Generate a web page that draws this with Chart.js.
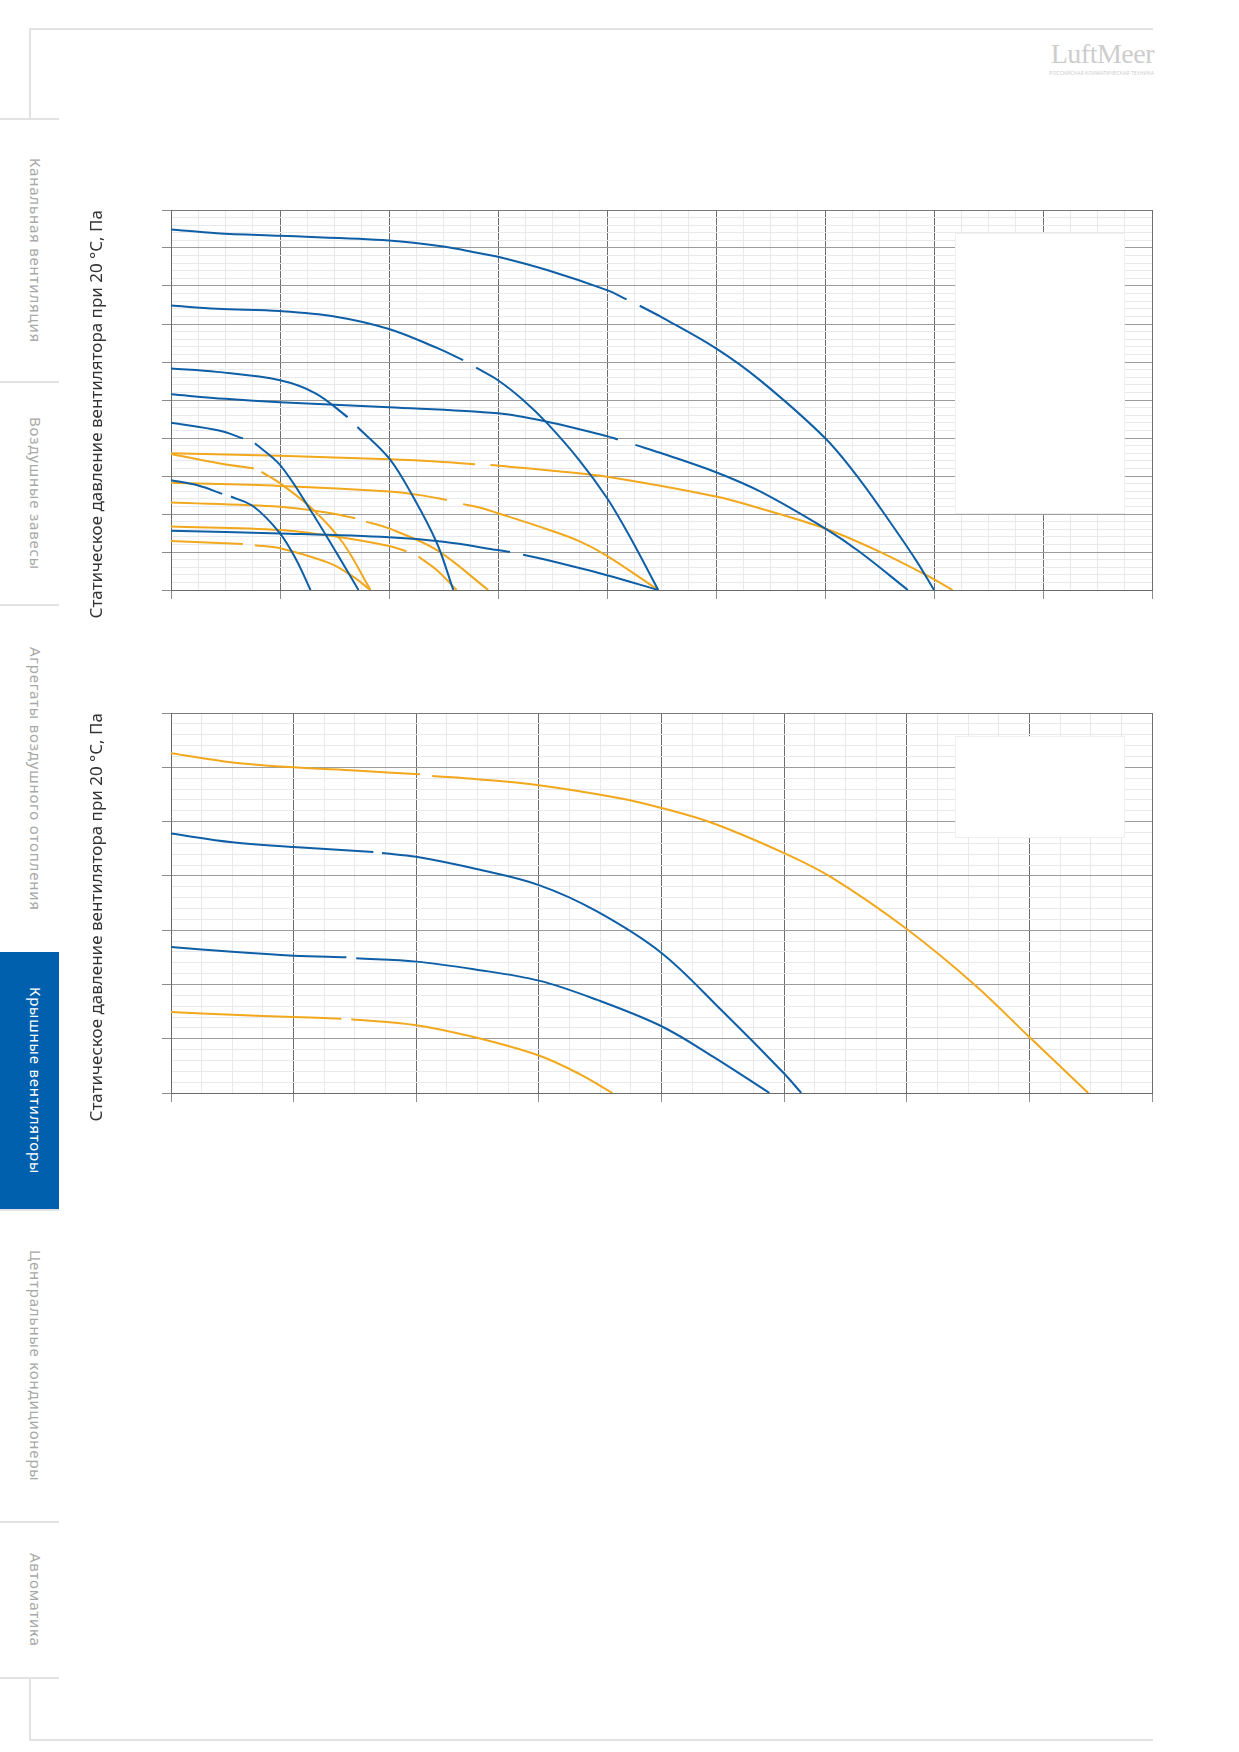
<!DOCTYPE html>
<html lang="ru">
<head>
<meta charset="utf-8">
<title>Крышные вентиляторы</title>
<script src="https://cdn.jsdelivr.net/npm/chart.js@4.4.1/dist/chart.umd.min.js"></script>
<style>
  html, body { margin: 0; padding: 0; background: #fff; }
  body { width: 1239px; height: 1752px; position: relative; overflow: hidden; font-family: "Noto Sans", sans-serif; }
  .rule { position: absolute; background: #e2e2e2; }
  .tab { position: absolute; left: 0; width: 59px; display: flex; align-items: center; justify-content: center; box-sizing: border-box; padding-left: 13px; }
  .tab span { writing-mode: vertical-rl; font-size: 15px; letter-spacing: 0.8px; color: #a8a8a8; white-space: nowrap; }
  .tab.active { background: #0060ad; }
  .tab.active span { color: #fff; }
  .chart-box { position: absolute; left: 60px; width: 1094px; height: 440px; }
  .logo { position: absolute; left: 1046px; top: 39px; width: 108px; text-align: right; color: #cdcdcd; }
  .logo b { display: block; font: 400 28px "Liberation Serif", serif; line-height: 30px; letter-spacing: -0.5px; }
  .logo small { display: block; font-size: 5px; letter-spacing: 0.1px; line-height: 8px; white-space: nowrap; }
</style>
</head>
<body>

<div class="rule" style="left:29px; top:28px; width:1124px; height:2px"></div>
<div class="rule" style="left:29px; top:28px; width:2px; height:91px"></div>
<div class="rule" style="left:29px; top:1677px; width:2px; height:64px"></div>
<div class="rule" style="left:29px; top:1739px; width:1124px; height:2px"></div>

<div class="rule" style="left:0; top:118px; width:59px; height:2px"></div>
<div class="rule" style="left:0; top:381px; width:59px; height:2px"></div>
<div class="rule" style="left:0; top:604px; width:59px; height:2px"></div>
<div class="rule" style="left:0; top:1209px; width:59px; height:2px"></div>
<div class="rule" style="left:0; top:1521px; width:59px; height:2px"></div>
<div class="rule" style="left:0; top:1677px; width:59px; height:2px"></div>

<div class="tab" style="top:120px; height:261px"><span>Канальная вентиляция</span></div>
<div class="tab" style="top:383px; height:221px"><span>Воздушные завесы</span></div>
<div class="tab" style="top:606px; height:346px"><span>Агрегаты воздушного отопления</span></div>
<div class="tab active" style="top:952px; height:257px"><span>Крышные вентиляторы</span></div>
<div class="tab" style="top:1211px; height:310px"><span>Центральные кондиционеры</span></div>
<div class="tab" style="top:1523px; height:154px"><span>Автоматика</span></div>

<div class="logo"><b>LuftMeer</b><small>РОССИЙСКАЯ КЛИМАТИЧЕСКАЯ ТЕХНИКА</small></div>

<div class="chart-box" style="top:190px"><canvas id="chart1"></canvas></div>
<div class="chart-box" style="top:693px"><canvas id="chart2"></canvas></div>

<script>
// оси: только деления, подписей на графиках нет
const yTitle = 'Статическое давление вентилятора при 20 °C, Па';
const chart1X = { max: 9, minor: 0.25 };
const chart1Y = { max: 10, minor: 0.2 };
const chart2X = { max: 8, minor: 0.25 };
const chart2Y = { max: 7, minor: 0.2 };

const blue = '#0f5fa6';
const orange = '#f2a81d';

// график 1, кривые [расход, давление]; null = разрыв линии под надпись
const p1Blue1 = [[0,9.49],[0.42,9.39],[1,9.32],[2,9.2],[2.5,9.04],[2.83,8.86],[3,8.77],[3.45,8.42],[4,7.89],[4.18,7.65],[4.24,null],[4.3,7.48],[4.52,7.15],[5,6.36],[5.4,5.53],[6,4.0],[6.32,2.9],[6.63,1.65],[6.84,0.76],[7.0,0]];
const p1Blue2 = [[0,7.49],[0.42,7.4],[1,7.34],[1.5,7.2],[2,6.87],[2.44,6.37],[2.68,6.05],[2.74,null],[2.8,5.85],[3,5.52],[3.23,5.0],[3.45,4.39],[3.75,3.4],[4,2.42],[4.21,1.4],[4.47,0]];
const p1Blue3 = [[0,5.83],[0.42,5.74],[1,5.52],[1.33,5.17],[1.62,4.55],[1.665,null],[1.71,4.29],[2,3.47],[2.22,2.46],[2.44,1.23],[2.59,0]];
const p1Blue4 = [[0,5.15],[0.5,5.03],[1,4.94],[2,4.81],[3,4.65],[3.45,4.43],[4,4.05],[4.1,3.96],[4.18,null],[4.26,3.82],[4.52,3.58],[5,3.1],[5.4,2.6],[6,1.62],[6.32,1.0],[6.76,0]];
const p1Blue5 = [[0,4.4],[0.45,4.19],[0.66,3.99],[0.715,null],[0.77,3.86],[1,3.29],[1.28,2.1],[1.52,0.97],[1.72,0]];
const p1Blue6 = [[0,2.89],[0.25,2.75],[0.47,2.53],[0.51,null],[0.55,2.46],[0.76,2.19],[1,1.49],[1.15,0.79],[1.28,0]];
const p1Blue7 = [[0,1.56],[1,1.49],[2,1.39],[2.5,1.27],[3,1.05],[3.11,1.0],[3.17,null],[3.23,0.93],[3.45,0.79],[4,0.39],[4.47,0]];
const p1Orange1 = [[0,3.6],[1,3.53],[2,3.44],[2.5,3.37],[2.79,3.31],[2.86,null],[2.93,3.29],[3.5,3.14],[4,2.98],[5,2.46],[5.4,2.15],[6,1.62],[6.47,1.05],[6.93,0.39],[7.17,0]];
const p1Orange2 = [[0,3.58],[0.45,3.33],[0.76,3.2],[0.795,null],[0.83,3.11],[1,2.81],[1.31,2.1],[1.58,1.23],[1.83,0]];
const p1Orange3 = [[0,2.82],[1,2.74],[2,2.59],[2.3,2.49],[2.53,2.37],[2.605,null],[2.68,2.26],[2.83,2.17],[3,2.02],[3.45,1.6],[3.75,1.28],[4,0.9],[4.47,0]];
const p1Orange4 = [[0,2.3],[1,2.19],[1.4,2.05],[1.69,1.89],[1.74,null],[1.79,1.8],[2,1.62],[2.44,1.05],[2.91,0]];
const p1Orange5 = [[0,1.67],[1,1.58],[1.52,1.4],[2,1.16],[2.16,1.02],[2.215,null],[2.27,0.88],[2.44,0.52],[2.62,0]];
const p1Orange6 = [[0,1.29],[0.66,1.21],[0.715,null],[0.77,1.18],[1,1.1],[1.46,0.7],[1.67,0.35],[1.83,0]];

// график 2
const p2Orange1 = [[0,6.26],[0.5,6.09],[1,6.0],[1.5,5.94],[2.03,5.87],[2.08,null],[2.13,5.84],[2.5,5.78],[3,5.67],[3.66,5.43],[4,5.25],[4.42,4.97],[5,4.42],[5.38,3.98],[6,3.02],[6.56,1.98],[7,1.03],[7.48,0]];
const p2Blue1 = [[0,4.78],[0.5,4.62],[1,4.53],[1.65,4.44],[1.685,null],[1.72,4.42],[2,4.35],[2.5,4.12],[3,3.83],[3.47,3.35],[4,2.58],[4.5,1.5],[5,0.36],[5.14,0]];
const p2Blue2 = [[0,2.69],[0.5,2.6],[1,2.53],[1.43,2.5],[1.47,null],[1.51,2.48],[2,2.42],[2.47,2.28],[3,2.07],[3.47,1.72],[4,1.23],[4.42,0.67],[4.88,0]];
const p2Orange2 = [[0,1.49],[0.5,1.44],[1,1.4],[1.39,1.37],[1.43,null],[1.47,1.36],[2,1.25],[2.47,1.03],[3,0.69],[3.34,0.34],[3.6,0]];

// пустые плашки (место легенды) в единицах осей: [x0, x1, y0, y1]
const chart1Panel = [7.19, 8.75, 2.0, 9.39];
const chart2Panel = [6.39, 7.78, 4.7, 6.57];

const isMajor = v => Math.abs(v - Math.round(v)) < 1e-6;

const blankPanel = {
  id: 'blankPanel',
  beforeDatasetsDraw(chart, args, opts) {
    const { ctx, scales: { x, y } } = chart;
    const [x0, x1, y0, y1] = opts.rect;
    const l = Math.round(x.getPixelForValue(x0)), r = Math.round(x.getPixelForValue(x1));
    const t = Math.round(y.getPixelForValue(y1)), b = Math.round(y.getPixelForValue(y0));
    ctx.save();
    ctx.fillStyle = '#fff';
    ctx.fillRect(l, t, r - l, b - t);
    ctx.strokeStyle = '#efefef';
    ctx.lineWidth = 1;
    ctx.strokeRect(l + 0.5, t + 0.5, r - l - 1, b - t - 1);
    ctx.restore();
  }
};

function curve(points, color) {
  return {
    data: points.map(p => ({ x: p[0], y: p[1] })),
    borderColor: color,
    borderWidth: 2,
    pointRadius: 0,
    tension: 0.35,
    spanGaps: false,
    fill: false
  };
}

function makeChart(id, datasets, xAxis, yAxis, panel) {
  new Chart(document.getElementById(id), {
    type: 'line',
    data: { datasets },
    options: {
      responsive: true,
      maintainAspectRatio: false,
      animation: false,
      events: [],
      layout: { padding: { top: 20, right: 2, bottom: 0, left: 0 } },
      plugins: {
        legend: { display: false },
        tooltip: { enabled: false },
        blankPanel: { rect: panel }
      },
      scales: {
        x: {
          type: 'linear',
          min: 0,
          max: xAxis.max,
          afterFit: s => { s.height = 40; },
          ticks: { display: false, stepSize: xAxis.minor, autoSkip: false },
          border: { color: '#6a6a6a', width: 1 },
          grid: {
            color: c => isMajor(c.tick.value) ? '#6e6e6e' : '#e7e9ed',
            tickColor: c => isMajor(c.tick.value) ? '#8c8c8c' : 'rgba(0,0,0,0)',
            tickLength: 9,
            lineWidth: 1
          }
        },
        y: {
          type: 'linear',
          min: 0,
          max: yAxis.max,
          afterFit: s => { s.width = 111; },
          ticks: { display: false, stepSize: yAxis.minor, autoSkip: false },
          border: { color: '#6a6a6a', width: 1 },
          grid: {
            color: c => c.tick.value === yAxis.max ? '#7a7a7a' : (isMajor(c.tick.value) ? '#9c9c9c' : '#e7e9ed'),
            tickColor: c => isMajor(c.tick.value) ? '#8c8c8c' : 'rgba(0,0,0,0)',
            tickLength: 9,
            lineWidth: 1
          },
          title: {
            display: true,
            text: yTitle,
            align: 'end',
            color: '#333',
            font: { family: 'Noto Sans', size: 17 },
            padding: { top: 27, bottom: 0 }
          }
        }
      }
    },
    plugins: [blankPanel]
  });
}

makeChart('chart1', [
  curve(p1Blue1, blue), curve(p1Blue2, blue), curve(p1Blue3, blue), curve(p1Blue4, blue),
  curve(p1Blue5, blue), curve(p1Blue6, blue), curve(p1Blue7, blue),
  curve(p1Orange1, orange), curve(p1Orange2, orange), curve(p1Orange3, orange),
  curve(p1Orange4, orange), curve(p1Orange5, orange), curve(p1Orange6, orange)
], chart1X, chart1Y, chart1Panel);

makeChart('chart2', [
  curve(p2Orange1, orange), curve(p2Blue1, blue), curve(p2Blue2, blue), curve(p2Orange2, orange)
], chart2X, chart2Y, chart2Panel);
</script>
</body>
</html>
